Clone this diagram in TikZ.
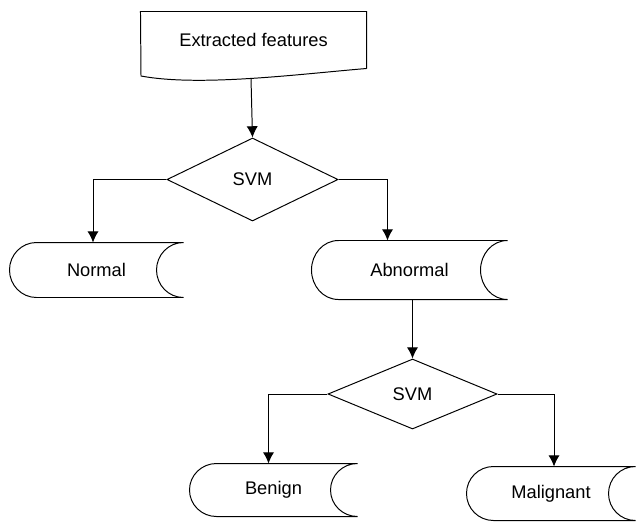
\documentclass[tikz,border=0pt]{standalone}
\usepackage{fontspec}
\setmainfont{Liberation Sans}
\usetikzlibrary{shapes.geometric,arrows.meta,calc}
\begin{document}
\begin{tikzpicture}[x=0.025cm,y=-0.025cm,line width=0.7pt,
  font=\fontsize{13pt}{15pt}\selectfont,
  arr/.style={-{Latex[length=8pt,width=8pt]}},
  decision/.style={diamond,draw,inner sep=0pt},
  store/.style={rectangle,inner sep=0pt,minimum width=#1,minimum height=1.35cm}]
 \useasboundingbox (0,0) rectangle (636,521);
 % input document
 \node (doc) [rectangle,inner sep=0pt,minimum width=5.625cm,minimum height=1.4cm] at (253.5,40) {Extracted features};
 \draw (doc.south east) -- (doc.north east) -- (doc.north west) -- (141,76)
   .. controls (200,87) and (300,74) .. (doc.south east);
 \coordinate (docout) at (251,78.5);
 % classifiers
 \node (svm1) [decision,minimum width=4.275cm,minimum height=2.075cm] at (252.5,179.5) {SVM};
 \node (svm2) [decision,minimum width=4.225cm,minimum height=1.75cm] at (412.5,394) {SVM};
 % classes
 \node (normal) [store=4.325cm] at (96.5,270) {Normal};
 \node (abnormal) [store=4.875cm,minimum height=1.45cm] at (409.5,270) {Abnormal};
 \node (benign) [store=4.175cm,minimum height=1.3cm] at (273.5,490) {Benign};
 \node (malignant) [store=4.2cm,minimum height=1.325cm] at (551,493.5) {Malignant};
 \foreach \n in {normal,abnormal,benign,malignant}
   \draw (\n.north east) -- ($(\n.north west)+(27,0)$) to[out=180,in=90] (\n.west)
     to[out=-90,in=180] ($(\n.south west)+(27,0)$) -- (\n.south east)
     to[out=180,in=-90] ($(\n.east)+(-27,0)$) to[out=90,in=180] (\n.north east);
 % connectors
 \draw[arr] (docout) -- (svm1.north);
 \draw[arr] (svm1.west) -| ($(normal.north)+(-3.5,0)$);
 \draw[arr] (svm1.east) -| ($(abnormal.north)+(-22,0)$);
 \draw[arr] (abnormal.south -| svm2.north) -- (svm2.north);
 \draw[arr] (svm2.west) -| ($(benign.north)+(-5,0)$);
 \draw[arr] (svm2.east) -| ($(malignant.north)+(3,0)$);
\end{tikzpicture}
\end{document}
